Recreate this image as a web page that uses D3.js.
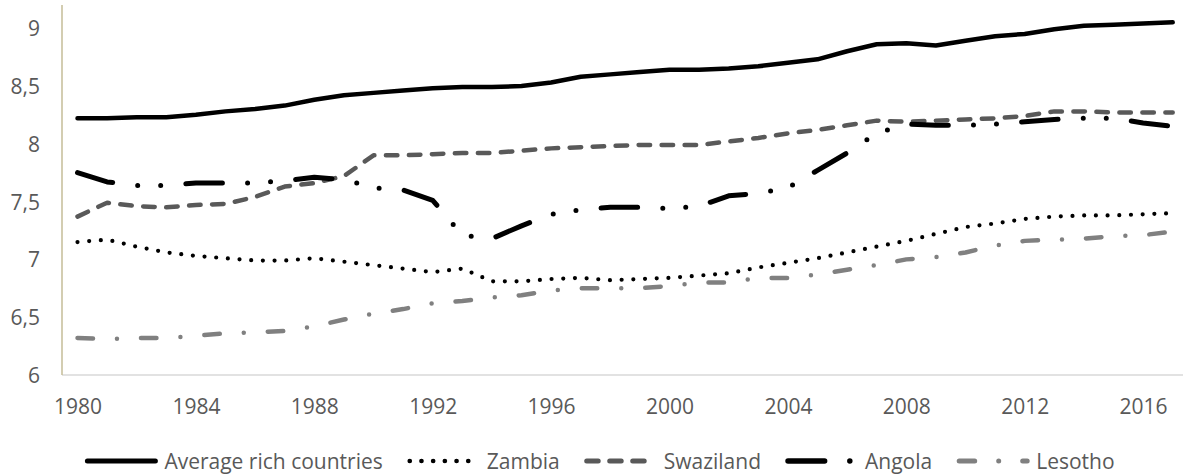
<!DOCTYPE html>
<html>
<head>
<meta charset="utf-8">
<script src="https://cdn.jsdelivr.net/npm/d3@7"></script>
<style>
  html, body { margin: 0; padding: 0; background: #fff; }
  svg { display: block; }
  text { font-family: "Open Sans", sans-serif; fill: #595959; }
</style>
</head>
<body>
<svg id="chart" width="1183" height="474"></svg>
<script>
const years = d3.range(1980, 2018);
const xTickLabels = [1980, 1984, 1988, 1992, 1996, 2000, 2004, 2008, 2012, 2016];
const yTickValues = [6, 6.5, 7, 7.5, 8, 8.5, 9];

const richCountries = [8.22, 8.22, 8.23, 8.23, 8.25, 8.28, 8.30, 8.33, 8.38, 8.42,
  8.44, 8.46, 8.48, 8.49, 8.49, 8.50, 8.53, 8.58, 8.60, 8.62,
  8.64, 8.64, 8.65, 8.67, 8.70, 8.73, 8.80, 8.86, 8.87, 8.85,
  8.89, 8.93, 8.95, 8.99, 9.02, 9.03, 9.04, 9.05];
const zambia = [7.15, 7.17, 7.11, 7.06, 7.03, 7.01, 6.99, 6.99, 7.01, 6.98,
  6.95, 6.92, 6.89, 6.92, 6.81, 6.81, 6.83, 6.84, 6.82, 6.83,
  6.84, 6.86, 6.88, 6.93, 6.97, 7.01, 7.06, 7.11, 7.16, 7.22,
  7.28, 7.31, 7.35, 7.37, 7.38, 7.38, 7.39, 7.40];
const swaziland = [7.37, 7.49, 7.46, 7.45, 7.47, 7.48, 7.54, 7.63, 7.66, 7.72,
  7.90, 7.90, 7.91, 7.92, 7.92, 7.94, 7.96, 7.97, 7.98, 7.99,
  7.99, 7.99, 8.02, 8.05, 8.09, 8.12, 8.16, 8.20, 8.19, 8.20,
  8.21, 8.22, 8.24, 8.28, 8.28, 8.27, 8.27, 8.27];
const angola = [7.75, 7.67, 7.64, 7.64, 7.66, 7.66, 7.66, 7.68, 7.71, 7.69,
  7.62, 7.60, 7.51, 7.21, 7.18, 7.29, 7.39, 7.43, 7.45, 7.45,
  7.44, 7.46, 7.55, 7.57, 7.62, 7.77, 7.92, 8.09, 8.17, 8.16,
  8.16, 8.17, 8.19, 8.21, 8.22, 8.22, 8.18, 8.15];
const lesotho = [6.32, 6.31, 6.32, 6.32, 6.34, 6.36, 6.37, 6.38, 6.42, 6.48,
  6.53, 6.57, 6.62, 6.64, 6.67, 6.69, 6.73, 6.75, 6.75, 6.75,
  6.77, 6.80, 6.80, 6.84, 6.84, 6.87, 6.91, 6.95, 7.00, 7.02,
  7.06, 7.12, 7.16, 7.17, 7.18, 7.20, 7.21, 7.24];

const seriesNames = ["Average rich countries", "Zambia", "Swaziland", "Angola", "Lesotho"];
const seriesValues = [richCountries, zambia, swaziland, angola, lesotho];
const seriesStyles = [
  { color: "#000000", width: 4.5, dash: null },
  { color: "#000000", width: 4.2, dash: "0 11.7" },
  { color: "#595959", width: 4.5, dash: "11.5 11.5" },
  { color: "#000000", width: 5, dash: "36.6 25.2 0 23 0 25.2" },
  { color: "#808080", width: 4.5, dash: "15.5 24 0 24" }
];

const svg = d3.select("#chart");
const x = d3.scalePoint().domain(years).range([77.5, 1172.7]);
const y = d3.scaleLinear().domain([6, 9.2]).range([375, 5]);

// axis lines
svg.append("line").attr("x1", 62).attr("x2", 1183).attr("y1", y(6)).attr("y2", y(6))
  .attr("stroke", "#d9d9d9").attr("stroke-width", 1.5);
svg.append("line").attr("x1", 62).attr("x2", 62).attr("y1", y(9.2)).attr("y2", y(6))
  .attr("stroke", "#c4bd97").attr("stroke-width", 1.5);

// x axis
const gx = svg.append("g").attr("transform", `translate(0,${y(6)})`)
  .call(d3.axisBottom(x).tickValues(xTickLabels).tickSize(0));
gx.select(".domain").remove();
gx.selectAll("text").attr("y", 39).attr("dy", null)
  .style("font-size", "21px").style("font-family", "'Open Sans', sans-serif").attr("fill", "#595959");

// y axis
const gy = svg.append("g").attr("transform", "translate(62,0)")
  .call(d3.axisLeft(y).tickValues(yTickValues).tickSize(0).tickPadding(22)
    .tickFormat(d => String(d).replace(".", ",")));
gy.select(".domain").remove();
gy.selectAll("text").attr("dy", "0.36em")
  .style("font-size", "21px").style("font-family", "'Open Sans', sans-serif").attr("fill", "#595959");

// lines
const lineGen = d3.line().x((d, i) => x(years[i])).y(d => y(d));
seriesValues.forEach((vals, i) => {
  const st = seriesStyles[i];
  svg.append("path").datum(vals)
    .attr("d", lineGen)
    .attr("fill", "none")
    .attr("stroke", st.color)
    .attr("stroke-width", st.width)
    .attr("stroke-linecap", "round")
    .attr("stroke-linejoin", "round")
    .attr("stroke-dasharray", st.dash);
});

// legend
const legend = svg.append("g");
const symLen = 72, textGap = 7, itemGap = 25, legendY = 461;
let cursor = 0;
seriesNames.forEach((name, i) => {
  const g = legend.append("g");
  const st = seriesStyles[i];
  g.append("line").attr("x1", 2).attr("x2", symLen - 2).attr("y1", 0).attr("y2", 0)
    .attr("stroke", st.color).attr("stroke-width", st.width + 0.5)
    .attr("stroke-linecap", "round").attr("stroke-dasharray", st.dash);
  const t = g.append("text").attr("x", symLen + textGap).attr("y", 0).attr("dy", "0.36em")
    .style("font-size", "21px").text(name);
  const w = symLen + textGap + t.node().getComputedTextLength();
  g.attr("transform", `translate(${cursor},${legendY})`);
  cursor += w + itemGap;
});
const totalW = cursor - itemGap;
legend.attr("transform", `translate(${600 - totalW / 2},0)`);
</script>
</body>
</html>
